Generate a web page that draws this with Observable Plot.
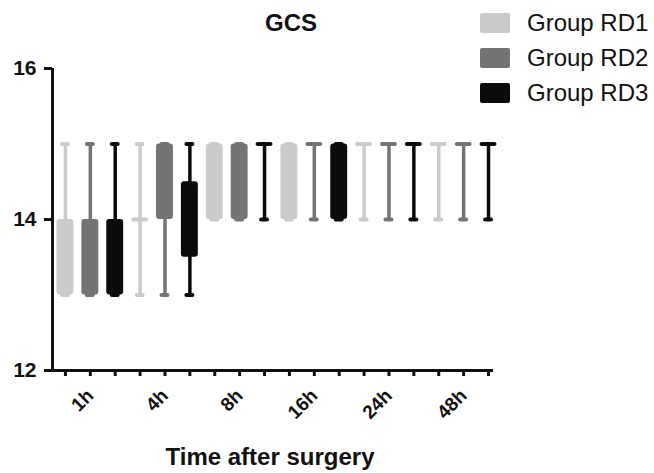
<!DOCTYPE html>
<html>
<head>
<meta charset="utf-8">
<script src="https://cdn.jsdelivr.net/npm/d3@7"></script>
<script src="https://cdn.jsdelivr.net/npm/@observablehq/plot@0.6"></script>
<style>
  html, body { margin: 0; padding: 0; background: #fff; }
  #wrap { position: relative; width: 654px; height: 473px; overflow: hidden; font-family: "Liberation Sans", Arial, sans-serif; color: #111; }
  #chart { position: absolute; left: 0; top: 0; }
  .title { position: absolute; left: 291px; top: 11px; transform: translateX(-50%); font-size: 24px; font-weight: bold; line-height: 1; white-space: nowrap; }
  .xlabel { position: absolute; left: 270px; top: 445px; transform: translateX(-50%); font-size: 24px; font-weight: bold; line-height: 1; white-space: nowrap; }
  .legend { position: absolute; left: 480px; top: 13px; }
  .legend .row { display: flex; align-items: center; height: 20px; margin-bottom: 15px; white-space: nowrap; }
  .legend .sw { width: 30px; height: 20px; border-radius: 2px; margin-right: 17px; }
  .legend .lab { font-size: 24px; line-height: 1; }
</style>
</head>
<body>
<div id="wrap">
  <div id="chart"></div>
  <div class="title">GCS</div>
  <div class="legend" id="legend"></div>
  <div class="xlabel">Time after surgery</div>
</div>
<script>
// ---- data ----
const times = ["1h", "4h", "8h", "16h", "24h", "48h"];
const groups = ["Group RD1", "Group RD2", "Group RD3"];
const colors = ["#cbcbcb", "#747474", "#0b0b0b"];
const yTicks = [12, 14, 16];

// per group, one value per time point
const minsRD1 = [13, 13, 14, 14, 14, 14];
const q1RD1   = [13, 14, 14, 14, 15, 15];
const medRD1  = [14, 14, 15, 15, 15, 15];
const q3RD1   = [14, 14, 15, 15, 15, 15];
const maxRD1  = [15, 15, 15, 15, 15, 15];

const minsRD2 = [13, 13, 14, 14, 14, 14];
const q1RD2   = [13, 14, 14, 15, 15, 15];
const medRD2  = [14, 15, 15, 15, 15, 15];
const q3RD2   = [14, 15, 15, 15, 15, 15];
const maxRD2  = [15, 15, 15, 15, 15, 15];

const minsRD3 = [13, 13, 14, 14, 14, 14];
const q1RD3   = [13, 13.5, 15, 14, 15, 15];
const medRD3  = [14, 14, 15, 15, 15, 15];
const q3RD3   = [14, 14.5, 15, 15, 15, 15];
const maxRD3  = [15, 15, 15, 15, 15, 15];

// ---- build table ----
const stats = [
  [minsRD1, q1RD1, medRD1, q3RD1, maxRD1],
  [minsRD2, q1RD2, medRD2, q3RD2, maxRD2],
  [minsRD3, q1RD3, medRD3, q3RD3, maxRD3]
];
const rows = [];
times.forEach((t, ti) => {
  groups.forEach((g, gi) => {
    const [mn, q1, md, q3, mx] = stats[gi];
    rows.push({i: ti * groups.length + gi, time: t, group: g,
      min: mn[ti], q1: q1[ti], med: md[ti], q3: q3[ti], max: mx[ti]});
  });
});
const nPos = rows.length;
const xDomain = [-0.52, nPos - 1 + 0.2];
const boxHalf = 0.34, capHalf = 0.12, medHalf = 0.26;

const chart = Plot.plot({
  width: 654, height: 473,
  marginLeft: 52, marginRight: 161, marginTop: 68, marginBottom: 103,
  x: {domain: xDomain, axis: null},
  y: {domain: [yTicks[0], yTicks[yTicks.length - 1]], axis: null},
  color: {domain: groups, range: colors},
  style: {fontFamily: "'Liberation Sans', Arial, sans-serif", color: "#111", background: "transparent"},
  marks: [
    // whiskers
    Plot.ruleX(rows, {x: "i", y1: "min", y2: "max", stroke: "group", strokeWidth: 3.5}),
    // caps
    Plot.ruleY(rows, {y: "min", x1: d => d.i - capHalf, x2: d => d.i + capHalf, stroke: "group", strokeWidth: 4, strokeLinecap: "round"}),
    Plot.ruleY(rows, {y: "max", x1: d => d.i - capHalf, x2: d => d.i + capHalf, stroke: "group", strokeWidth: 4, strokeLinecap: "round"}),
    // boxes
    Plot.rect(rows.filter(d => d.q3 > d.q1), {x1: d => d.i - boxHalf, x2: d => d.i + boxHalf, y1: "q1", y2: "q3", fill: "group", rx: 3}),
    // collapsed boxes (q1 = median = q3)
    Plot.ruleY(rows.filter(d => d.q3 === d.q1), {y: "med", x1: d => d.i - medHalf, x2: d => d.i + medHalf, stroke: "group", strokeWidth: 4, strokeLinecap: "round"}),
    // axes
    Plot.ruleX([xDomain[0]], {y1: yTicks[0], y2: yTicks[yTicks.length - 1], stroke: "#111", strokeWidth: 3}),
    Plot.ruleY([yTicks[0]], {x1: xDomain[0], x2: xDomain[1], stroke: "#111", strokeWidth: 3}),
    Plot.axisY(yTicks, {tickSize: 8, strokeWidth: 3, tickPadding: 8, fontSize: 21, fontWeight: "bold", label: null, stroke: "#111", fill: "#111", tickFormat: d3.format("d")}),
    Plot.axisX(d3.range(nPos), {tickSize: 6, strokeWidth: 3, tickPadding: 16, tickRotate: -45, fontSize: 19, fontWeight: "bold", label: null, stroke: "#111", fill: "#111",
      tickFormat: i => (i % 3 === 1 ? times[(i - 1) / 3] : "")})
  ]
});
document.getElementById("chart").appendChild(chart);

const legend = document.getElementById("legend");
groups.forEach((g, k) => {
  const row = document.createElement("div");
  row.className = "row";
  row.innerHTML = `<div class="sw" style="background:${colors[k]}"></div><div class="lab">${g}</div>`;
  legend.appendChild(row);
});
</script>
</body>
</html>
